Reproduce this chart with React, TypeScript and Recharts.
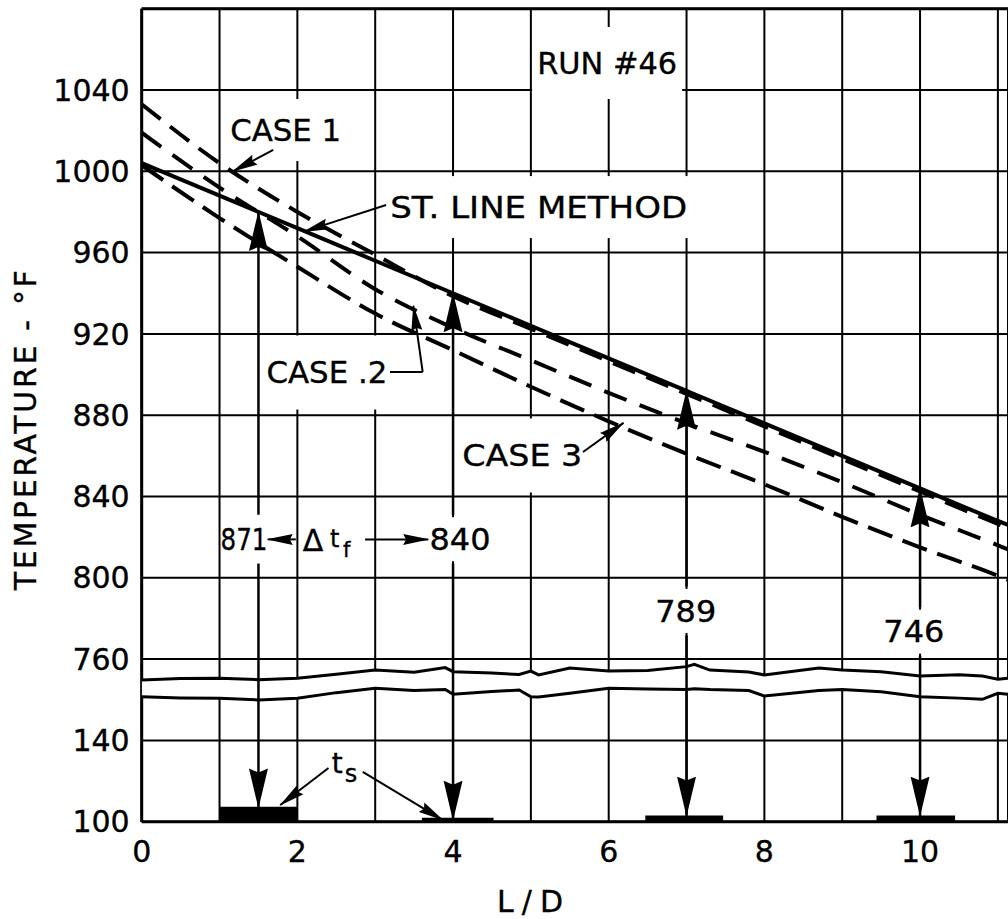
import React from 'react';
import {
  ComposedChart,
  Line,
  Area,
  XAxis,
  YAxis,
  CartesianGrid,
  ReferenceLine,
  ReferenceDot,
  ReferenceArea,
  Label,
} from 'recharts';

// L/D stations the curves were read at (last one is the clipped right edge)
const ld = [0, 1, 2, 3, 4, 5, 6, 7, 8, 9, 10, 11, 11.13];
const stLine = [1004, 988, 972, 956, 940, 924, 908, 892, 876, 860, 844, 828, 826];
const case1 = [1033, 1004, 980, 959, 938.5, 922.5, 906.5, 890.5, 874.5, 858.5, 842.5, 826.5, 824.5];
const case2 = [1019, 992, 968, 942, 923, 907, 891, 876, 862, 847, 831, 816, 814];
const case3 = [1003, 977, 953, 930, 912, 894, 877, 861, 846, 830, 815, 801, 799];

// broken temperature axis: 100..140 below the break, 760..1080 above it
const BREAK_SHIFT = 580;
const toAxis = (t: number) => (t >= 700 ? t - BREAK_SHIFT : t);
const fromAxis = (v: number) => (v >= 180 ? v + BREAK_SHIFT : v);

const tempTicks = [100, 140, 760, 800, 840, 880, 920, 960, 1000, 1040, 1080];
const ldTicks = [0, 1, 2, 3, 4, 5, 6, 7, 8, 9, 10, 11];

// wavy break marks, in axis units (between the 140 and 760 lines)
const breakX = [0, 0.5, 1, 1.5, 2, 2.5, 3, 3.5, 3.9, 4, 4.5, 4.85, 5, 5.1, 5.5, 6, 6.5, 7, 7.1, 7.3, 7.8, 8, 8.7, 9, 9.5, 10, 10.5, 10.8, 11, 11.13];
const breakTop = [169.7, 170.5, 170.6, 169.9, 170.6, 172.5, 174.6, 173.5, 175.8, 173.8, 173.2, 172.4, 174.1, 172.2, 175.6, 174.1, 174.4, 176.3, 177.4, 174.6, 173.6, 172.2, 175.6, 174.6, 173.8, 171.7, 172.3, 171.7, 170.1, 170.6];
const breakBottom = [161.5, 160.9, 160.7, 159.9, 160.7, 163.5, 165.6, 164.6, 165.0, 162.7, 164.0, 164.8, 161.5, 161.3, 163.2, 165.6, 165.3, 165.1, 165.4, 165.0, 164.5, 161.8, 164.6, 165.1, 163.9, 161.5, 160.8, 160.2, 163.2, 162.7];

// readings: arrows from the st. line down to the t_s bars
const readX = [1.5, 4, 7, 10];
const readTemp = [980, 940, 892, 844];
const readLabel = ['871', '840', '789', '746'];
const readLabelTemp = [819, 819, 783.7, 773.5];
const readLabelX = [1.314, 4.09, 6.99, 9.92];
const readTs = [107, 101, 103, 103];

// t_s bars along the bottom
const tsFrom = [1, 3.6, 6.47, 9.44];
const tsTo = [2, 4.52, 7.47, 10.45];
const tsLevel = [107.4, 102, 103, 103];

const rows = ld.map((x, i) => ({
  x,
  st: toAxis(stLine[i]),
  c1: toAxis(case1[i]),
  c2: toAxis(case2[i]),
  c3: toAxis(case3[i]),
}));

const breakRows = breakX.map((x, i) => ({
  x,
  hi: breakTop[i],
  lo: breakBottom[i],
  band: [breakBottom[i], breakTop[i]],
}));

const FONT = '"DejaVu Sans", sans-serif';
const INK = '#000';
const BOLD = { stroke: INK, strokeWidth: 0.35 };

type NoteProps = {
  cx?: number;
  cy?: number;
  text: string;
  len?: number;
  boxW?: number;
  boxH?: number;
  size?: number;
};

const Note = ({ cx = 0, cy = 0, text, len, boxW = 0, boxH = 0, size = 30 }: NoteProps) => (
  <g>
    {boxW > 0 && <rect x={cx - boxW / 2} y={cy - boxH / 2} width={boxW} height={boxH} fill="#fff" />}
    <text
      x={cx}
      y={cy + size * 0.36}
      textAnchor="middle"
      fontFamily={FONT}
      fontSize={size}
      fill={INK}
      {...BOLD}
      textLength={len}
      lengthAdjust="spacingAndGlyphs"
    >
      {text}
    </text>
  </g>
);

const notes = [
  { text: 'RUN #46', x: 5.98, t: 1053.3, len: 140, boxW: 150, boxH: 72 },
  { text: 'CASE 1', x: 1.85, t: 1020.3, len: 111, boxW: 124, boxH: 62 },
  { text: 'ST. LINE METHOD', x: 5.1, t: 982.4, len: 297, boxW: 312, boxH: 62 },
  { text: 'CASE .2', x: 2.38, t: 901, len: 121, boxW: 150, boxH: 74 },
  { text: 'CASE 3', x: 4.89, t: 860.2, len: 120, boxW: 132, boxH: 74 },
];

// pointer arrows: [fromX, fromTemp, toX, toTemp, head]
const pointers: [number, number, number, number, boolean][] = [
  [1.69, 1010.5, 1.17, 1000, true],
  [3.14, 983.4, 2.08, 970.3, true],
  [3.19, 901.3, 3.61, 901.3, false],
  [3.61, 901.3, 3.49, 933.8, true],
  [5.67, 861.9, 6.19, 876.2, true],
  [1.98, 818.9, 1.62, 818.9, true],
  [2.87, 818.9, 3.68, 818.9, true],
  [2.4, 126.4, 1.78, 108.2, true],
  [2.84, 124.5, 3.87, 100.8, true],
];

const DeltaTf = ({ cx = 0, cy = 0 }: { cx?: number; cy?: number }) => (
  <g fontFamily={FONT} fill={INK} {...BOLD}>
    <text x={cx} y={cy + 11} textAnchor="middle" fontSize={30}>Δ</text>
    <text x={cx + 17} y={cy + 7} fontSize={24}>t</text>
    <text x={cx + 30} y={cy + 17} fontSize={21}>f</text>
  </g>
);

const Ts = ({ cx = 0, cy = 0 }: { cx?: number; cy?: number }) => (
  <g fontFamily={FONT} fill={INK} {...BOLD}>
    <text x={cx - 6} y={cy + 10} fontSize={28}>t</text>
    <text x={cx + 7} y={cy + 19} fontSize={24}>s</text>
  </g>
);

const tickStyle = { fill: INK, fontSize: 30, fontFamily: FONT, ...BOLD };

export default function App() {
  return (
    <div style={{ position: 'absolute', left: 0, top: 0, width: 1008, height: 919, background: '#fff', overflow: 'hidden' }}>
      <svg width={0} height={0} style={{ position: 'absolute' }}>
        <defs>
          <marker id="bigHead" viewBox="0 0 40 20" markerWidth={40} markerHeight={20} refX={39} refY={10} orient="auto" markerUnits="userSpaceOnUse">
            <path d="M0,0.5 L40,10 L0,19.5 L4,10 Z" fill={INK} />
          </marker>
          <marker id="smallHead" viewBox="0 0 26 12" markerWidth={26} markerHeight={12} refX={25} refY={6} orient="auto" markerUnits="userSpaceOnUse">
            <path d="M0,0.5 L26,6 L0,11.5 L3,6 Z" fill={INK} />
          </marker>
        </defs>
      </svg>
      <ComposedChart
        width={1008}
        height={919}
        data={rows}
        margin={{ top: 8.7, right: 0, bottom: 7.3, left: 11.7 }}
        style={{ fontFamily: FONT }}
      >
        <CartesianGrid stroke={INK} strokeWidth={2} zIndex={-100} />
        <XAxis
          dataKey="x"
          type="number"
          domain={[0, 11.13]}
          ticks={ldTicks}
          allowDataOverflow
          height={90}
          axisLine={false}
          tickLine={false}
          tickSize={0}
          tickMargin={19}
          interval={0}
          tick={tickStyle}
          tickFormatter={(v: number) => (v % 2 === 0 ? String(v) : '')}
        >
          <Label
            content={(p: any) => {
              const vb = p.viewBox || { x: 141.7, y: 821.7 };
              return (
                <text x={vb.x + 388.3} y={vb.y + 90} textAnchor="middle" fontFamily={FONT} fontSize={30} fill={INK} {...BOLD} textLength={66} lengthAdjust="spacing">
                  L/D
                </text>
              );
            }}
          />
        </XAxis>
        <YAxis
          type="number"
          domain={[100, 500]}
          ticks={tempTicks.map(toAxis)}
          allowDataOverflow
          width={130}
          axisLine={false}
          tickLine={false}
          tickSize={0}
          tickMargin={12}
          interval={0}
          tick={tickStyle}
          tickFormatter={(v: number) => (v >= 500 ? '' : String(fromAxis(v)))}
        >
          <Label
            content={(p: any) => {
              const vb = p.viewBox || { x: 11.7, y: 8.7, width: 130, height: 813 };
              const cx = vb.x + vb.width - 105.5;
              const cy = vb.y + vb.height / 2 + 15;
              return (
                <text
                  x={cx}
                  y={cy}
                  transform={`rotate(-90 ${cx} ${cy})`}
                  textAnchor="middle"
                  fontFamily={FONT}
                  fontSize={30}
                  fill={INK}
                  {...BOLD}
                  textLength={320}
                  lengthAdjust="spacing"
                >
                  TEMPERATURE - °F
                </text>
              );
            }}
          />
        </YAxis>

        {/* frame */}
        <ReferenceLine x={0} stroke={INK} strokeWidth={3} zIndex={5} />
        <ReferenceLine y={100} stroke={INK} strokeWidth={3} zIndex={5} />
        <ReferenceLine y={500} stroke={INK} strokeWidth={3} zIndex={5} />

        {/* axis break: blank band between two wavy lines */}
        <Area data={breakRows} dataKey="band" type="linear" fill="#fff" fillOpacity={1} stroke="none" isAnimationActive={false} zIndex={20} />
        <Line data={breakRows} dataKey="hi" type="linear" stroke={INK} strokeWidth={3} dot={false} isAnimationActive={false} zIndex={30} />
        <Line data={breakRows} dataKey="lo" type="linear" stroke={INK} strokeWidth={3} dot={false} isAnimationActive={false} zIndex={30} />

        {/* text notes with white backing */}
        {notes.map((n) => (
          <ReferenceDot
            key={n.text}
            x={n.x}
            y={toAxis(n.t)}
            r={0}
            zIndex={50}
            shape={(p: any) => <Note cx={p.cx} cy={p.cy} text={n.text} len={n.len} boxW={n.boxW} boxH={n.boxH} />}
          />
        ))}
        {readLabel.map((s, i) => (
          <ReferenceDot
            key={s}
            x={readLabelX[i]}
            y={toAxis(readLabelTemp[i])}
            r={0}
            zIndex={50}
            shape={(p: any) => <Note cx={p.cx} cy={p.cy} text={s} len={i === 0 ? 47 : 61} boxW={i === 0 ? 46 : 66} boxH={44} />}
          />
        ))}
        <ReferenceDot x={2.2} y={toAxis(818.6)} r={0} zIndex={50} shape={(p: any) => <DeltaTf cx={p.cx} cy={p.cy} />} />
        <ReferenceDot x={2.52} y={128.9} r={0} zIndex={50} shape={(p: any) => <Ts cx={p.cx} cy={p.cy} />} />

        {/* curves */}
        <Line dataKey="c1" type="monotone" stroke={INK} strokeWidth={4} strokeDasharray="24 12" dot={false} isAnimationActive={false} zIndex={400} />
        <Line dataKey="c2" type="monotone" stroke={INK} strokeWidth={4} strokeDasharray="24 14" dot={false} isAnimationActive={false} zIndex={400} />
        <Line dataKey="c3" type="monotone" stroke={INK} strokeWidth={4} strokeDasharray="26 11" dot={false} isAnimationActive={false} zIndex={400} />
        <Line dataKey="st" type="monotone" stroke={INK} strokeWidth={4} dot={false} isAnimationActive={false} zIndex={400} />

        {/* reading arrows */}
        {readX.map((x, i) => (
          <ReferenceLine
            key={`up${i}`}
            segment={[
              { x, y: toAxis(readLabelTemp[i] + 12) },
              { x, y: toAxis(readTemp[i]) },
            ]}
            stroke={INK}
            strokeWidth={2.5}
            markerEnd="url(#bigHead)"
            zIndex={450}
          />
        ))}
        {readX.map((x, i) => (
          <ReferenceLine
            key={`dn${i}`}
            segment={[
              { x, y: toAxis(readLabelTemp[i] - 12) },
              { x, y: toAxis(readTs[i]) },
            ]}
            stroke={INK}
            strokeWidth={2.5}
            markerEnd="url(#bigHead)"
            zIndex={450}
          />
        ))}
        {pointers.map(([x1, t1, x2, t2, head], i) => (
          <ReferenceLine
            key={`pt${i}`}
            segment={[
              { x: x1, y: toAxis(t1) },
              { x: x2, y: toAxis(t2) },
            ]}
            stroke={INK}
            strokeWidth={2}
            markerEnd={head ? 'url(#smallHead)' : undefined}
            zIndex={450}
          />
        ))}

        {/* t_s bars */}
        {tsFrom.map((x1, i) => (
          <ReferenceArea key={`ts${i}`} x1={x1} x2={tsTo[i]} y1={100} y2={tsLevel[i]} fill={INK} fillOpacity={1} stroke="none" zIndex={460} />
        ))}
      </ComposedChart>
    </div>
  );
}
